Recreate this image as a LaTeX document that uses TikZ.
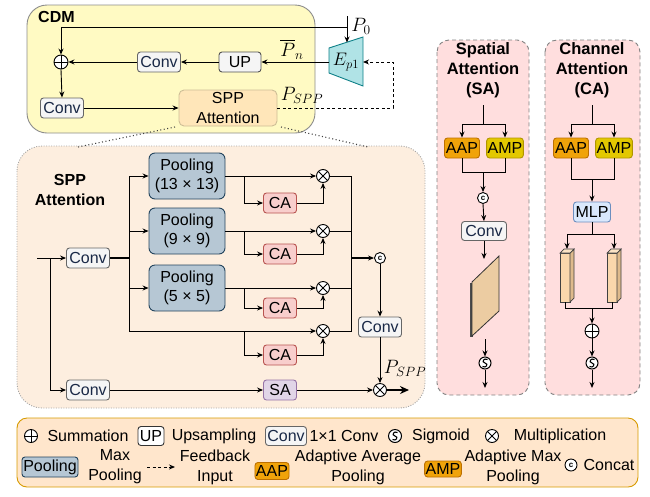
\documentclass[tikz,border=0pt]{standalone}
\usepackage[no-math]{fontspec}
\setmainfont{Liberation Sans}
\usepackage{amsmath}
\usepackage{graphicx}
\usetikzlibrary{arrows.meta}
\definecolor{cdmfill}{RGB}{255,250,195}
\definecolor{cdmdraw}{RGB}{140,140,140}
\definecolor{sppfill}{RGB}{255,230,185}
\definecolor{sppdraw}{RGB}{205,190,150}
\definecolor{bigfill}{RGB}{253,238,223}
\definecolor{convfill}{RGB}{245,245,245}
\definecolor{convdraw}{RGB}{102,102,102}
\definecolor{convtext}{RGB}{25,40,70}
\definecolor{poolfill}{RGB}{182,199,212}
\definecolor{pooldraw}{HTML}{23445D}
\definecolor{cafill}{HTML}{F8CECC}
\definecolor{cadraw}{HTML}{B85450}
\definecolor{safill}{HTML}{E1D5E7}
\definecolor{sadraw}{HTML}{9673A6}
\definecolor{mlpfill}{HTML}{DAE8FC}
\definecolor{mlpdraw}{HTML}{6C8EBF}
\definecolor{aapfill}{HTML}{F0A30A}
\definecolor{aapdraw}{HTML}{BD7000}
\definecolor{ampfill}{HTML}{E3C800}
\definecolor{ampdraw}{HTML}{B09500}
\definecolor{panelfill}{RGB}{255,222,222}
\definecolor{paneldraw}{RGB}{130,130,130}
\definecolor{legfill}{HTML}{FFE6CC}
\definecolor{legdraw}{HTML}{D79B00}
\definecolor{epfill}{HTML}{B0E3E6}
\definecolor{epdraw}{HTML}{0E8088}
\definecolor{platefill}{RGB}{236,204,162}
\definecolor{cubefill}{HTML}{FAD7AC}
\definecolor{cubeside}{RGB}{222,186,140}
\newcommand\fsz{\fontsize{16}{19}\selectfont}
\newcommand\tsz{\fontsize{16.5}{20}\selectfont\bfseries}
\newcommand\msz{\fontsize{17.28}{20}\selectfont}
\newcommand\mlb[2]{\scalebox{#1}{$#2$}}
\tikzset{
  base/.style={rounded corners=3pt, line width=0.9pt, inner sep=1pt, font=\fsz, align=center, text=black},
  conv/.style={base, draw=convdraw, fill=convfill, minimum width=43, minimum height=20, text=convtext},
  upbox/.style={base, draw=convdraw!80!black, fill=convfill, minimum width=42, minimum height=20},
  pool/.style={base, rounded corners=6pt, draw=pooldraw, fill=poolfill, minimum width=76, minimum height=46},
  cabox/.style={base, draw=cadraw, fill=cafill, minimum width=33, minimum height=20},
  sabox/.style={base, draw=sadraw, fill=safill, minimum width=33, minimum height=20},
  mlpbox/.style={base, draw=mlpdraw, fill=mlpfill, minimum width=37, minimum height=20},
  aapbox/.style={base, draw=aapdraw, fill=aapfill, minimum width=35, minimum height=20},
  ampbox/.style={base, draw=ampdraw, fill=ampfill, minimum width=35, minimum height=20},
  sppbox/.style={base, rounded corners=5pt, draw=sppdraw, fill=sppfill, minimum width=98, minimum height=36, font=\fontsize{16}{20}\selectfont},
  lgtxt/.style={font=\fontsize{16}{20}\selectfont, align=center, inner sep=0pt},
  ttl/.style={font=\tsz, align=center, inner sep=0pt},
  mlbl/.style={font=\msz, inner sep=0pt},
  conn/.style={line width=0.9pt, draw=black},
  arw/.style={conn, -{Stealth[length=6pt,width=5pt]}},
  dasharw/.style={conn, dash pattern=on 3pt off 2.5pt, -{Stealth[length=6pt,width=5pt]}},
  bigarw/.style={line width=2.2pt, -{Stealth[length=9pt,width=8pt]}},
  opsum/.style={circle, draw, line width=0.9pt, fill=white, minimum size=14, inner sep=0pt,
    path picture={\draw[line width=0.9pt] (path picture bounding box.north)--(path picture bounding box.south) (path picture bounding box.west)--(path picture bounding box.east);}},
  opmul/.style={circle, draw, line width=0.9pt, fill=white, minimum size=13, inner sep=0pt,
    path picture={\draw[line width=0.9pt] (path picture bounding box.north west)--(path picture bounding box.south east) (path picture bounding box.south west)--(path picture bounding box.north east);}},
  opsig/.style={circle, draw, line width=1pt, fill=white, minimum size=12, inner sep=0pt,
    path picture={\draw[line width=1.1pt, shift={(path picture bounding box.center)}] (2.5,-3.5) .. controls (-1,-5.5) and (-4,-1) .. (0,0) .. controls (4,1) and (1,5.5) .. (-2.5,3.5);}},
  opcat/.style={circle, draw, line width=0.9pt, fill=white, minimum size=11, inner sep=0pt, font=\fontsize{8}{8}\selectfont\bfseries},
}
\begin{document}
\begin{tikzpicture}[x=1pt,y=-1pt]
\useasboundingbox (0,0) rectangle (650,496);

% ---------------- CDM ----------------
\draw[cdmdraw, fill=cdmfill, line width=0.9pt, rounded corners=20pt] (27,5) rectangle (315,133);
\node[font=\fontsize{16}{18}\selectfont\bfseries, anchor=west, inner sep=0pt] (cdmlbl) at (38,17) {CDM};

\draw[epdraw, fill=epfill, line width=0.9pt] (329,48) -- (363,37) -- (363,86) -- (329,73) -- cycle;
\node[mlbl] (ep) at (346,62) {\mlb{1.05}{E_{p1}}};
\coordinate (epL) at (329,62);
\coordinate (epR) at (363,62);
\coordinate (epT) at (347,42.5);

\node[opsum] (sum1) at (61,62) {};
\node[conv] (c1) at (159,62) {Conv};
\node[upbox] (up) at (240,62) {UP};
\node[conv] (c2) at (62,108) {Conv};
\node[sppbox] (spp) at (228,108) {SPP\\Attention};

\coordinate (p0in) at (347,16);
\coordinate (p0j) at (347,27);
\draw[arw] (p0in) -- (epT);
\draw[arw] (p0j) -| (sum1.north);
\draw[arw] (epL) -- (up.east);
\draw[arw] (up.west) -- (c1.east);
\draw[arw] (c1.west) -- (sum1.east);
\draw[arw] (sum1.south) -- (c2.north);
\draw[arw] (c2.east) -- (spp.west);
\coordinate (fb1) at (393,108);
\coordinate (fb2) at (393,62);
\draw[dasharw] (spp.east) -- (fb1) -- (fb2) -- (epR);

\node[mlbl] (p0lbl) at (361,26) {\mlb{1.12}{P_0}};
\node[mlbl] (pnlbl) at (292,49) {\mlb{1.12}{\overline{P}_n}};
\node[mlbl] (psppa) at (302,95) {\mlb{1.12}{P_{SPP}}};

% ---------------- SPP Attention region ----------------
\draw[draw=gray!70, fill=bigfill, line width=0.9pt, dash pattern=on 1pt off 1.5pt, rounded corners=25pt] (17,146) rectangle (425,408);
\coordinate (zl) at (78,147);
\coordinate (zr) at (368,147);
\draw[line width=1.1pt, dash pattern=on 1pt off 2.5pt, black!75] (175,127) -- (zl);
\draw[line width=1.1pt, dash pattern=on 1pt off 2.5pt, black!75] (281,127) -- (zr);
\node[ttl, font=\fontsize{16}{20}\selectfont\bfseries] (sppl) at (70,190) {SPP\\Attention};

\node[conv] (c3) at (88,258) {Conv};
\node[conv] (c4) at (88,390) {Conv};
\node[pool] (pool1) at (187,176) {Pooling\\(13 × 13)};
\node[pool] (pool2) at (187,231) {Pooling\\(9 × 9)};
\node[pool] (pool3) at (187,288) {Pooling\\(5 × 5)};
\node[opmul] (mul1) at (323,176) {};
\node[opmul] (mul2) at (323,231) {};
\node[opmul] (mul3) at (323,288) {};
\node[opmul] (mul4) at (323,331) {};
\node[cabox] (ca1) at (280,203) {CA};
\node[cabox] (ca2) at (280,254) {CA};
\node[cabox] (ca3) at (280,308) {CA};
\node[cabox] (ca4) at (280,355) {CA};
\node[opcat] (cat1) at (380,258) {c};
\node[conv] (c5) at (380,327) {Conv};
\node[opmul] (mul5) at (380,390) {};
\node[sabox] (sa) at (280,390) {SA};
\node[mlbl] (psppb) at (405,368) {\mlb{1.12}{P_{SPP}}};

\coordinate (in) at (37,258);
\coordinate (bi) at (50,258);
\coordinate (bl) at (129,258);
\coordinate (br) at (351,258);
\coordinate (out) at (409,390);
\draw[arw] (in) -- (c3.west);
\draw[arw] (bi) |- (c4.west);
\draw[conn, line width=1.5pt] (c3.east) -- (bl);
\draw[arw] (bl) |- (pool1.west);
\draw[arw] (bl) |- (pool2.west);
\draw[arw] (bl) |- (pool3.west);
\draw[arw] (bl) |- (mul4.west);
\draw[arw] (pool1.east) -- (mul1.west);
\draw[arw] (pool2.east) -- (mul2.west);
\draw[arw] (pool3.east) -- (mul3.west);
\coordinate (k1) at (244,176);
\coordinate (k2) at (244,231);
\coordinate (k3) at (244,288);
\coordinate (k4) at (244,331);
\draw[arw] (k1) |- (ca1.west);
\draw[arw] (k2) |- (ca2.west);
\draw[arw] (k3) |- (ca3.west);
\draw[arw] (k4) |- (ca4.west);
\draw[arw] (ca1.east) -| (mul1.south);
\draw[arw] (ca2.east) -| (mul2.south);
\draw[arw] (ca3.east) -| (mul3.south);
\draw[arw] (ca4.east) -| (mul4.south);
\draw[conn] (mul1.east) -| (br);
\draw[conn] (mul2.east) -| (br);
\draw[conn] (mul3.east) -| (br);
\draw[conn] (mul4.east) -| (br);
\draw[arw, line width=1.5pt] (br) -- (cat1.west);
\draw[arw] (cat1.south) -- (c5.north);
\draw[arw] (c5.south) -- (mul5.north);
\draw[arw] (c4.east) -- (sa.west);
\draw[arw] (sa.east) -- (mul5.west);
\draw[bigarw] (mul5.east) -- (out);

% ---------------- Spatial Attention panel ----------------
\draw[paneldraw, fill=panelfill, line width=0.9pt, dash pattern=on 4pt off 3pt, rounded corners=12pt] (437,40) rectangle (529,395);
\node[ttl] (sattl) at (483,70) {Spatial\\Attention\\(SA)};
\node[aapbox] (aap1) at (462,148) {AAP};
\node[ampbox] (amp1) at (505,148) {AMP};
\node[opcat] (cat2) at (483,198) {c};
\node[conv, minimum width=45, minimum height=19] (c6) at (484,231) {Conv};
\node[opsig] (sig1) at (485,363) {};
\coordinate (sat) at (483,105);
\coordinate (saj) at (483,124);
\coordinate (sab) at (483,172);
\coordinate (sapl) at (484,259);
\coordinate (sas) at (485,339);
\coordinate (sao) at (485,388);
\draw[conn] (sat) -- (saj);
\draw[arw] (saj) -| (aap1.north);
\draw[arw] (saj) -| (amp1.north);
\draw[conn] (aap1.south) |- (sab);
\draw[conn] (amp1.south) |- (sab);
\draw[arw] (sab) -- (cat2.north);
\draw[arw] (cat2.south) -- (c6.north);
\draw[arw] (c6.south) -- (sapl);
\draw[line width=3pt, black!70] (471,283) -- (471,337);
\draw[fill=platefill, draw=black!80, line width=0.8pt] (472,282) -- (499,256) -- (499,311) -- (472,336) -- cycle;
\draw[arw] (sas) -- (sig1.north);
\draw[arw] (sig1.south) -- (sao);

% ---------------- Channel Attention panel ----------------
\draw[paneldraw, fill=panelfill, line width=0.9pt, dash pattern=on 4pt off 3pt, rounded corners=12pt] (545,40) rectangle (640,395);
\node[ttl] (cattl) at (592,70) {Channel\\Attention\\(CA)};
\node[aapbox] (aap2) at (571,148) {AAP};
\node[ampbox] (amp2) at (614,148) {AMP};
\node[mlpbox] (mlp) at (592,212) {MLP};
\node[opsum] (sum2) at (592,331) {};
\node[opsig] (sig2) at (592,363) {};
\coordinate (cat) at (592,105);
\coordinate (caj) at (592,124);
\coordinate (cab) at (592,179);
\coordinate (mj) at (592,234);
\coordinate (cu1t) at (567,249);
\coordinate (cu2t) at (614,249);
\coordinate (cu1b) at (565,302);
\coordinate (cu2b) at (612,302);
\coordinate (cbj) at (592,308);
\coordinate (cao) at (592,388);
\draw[conn] (cat) -- (caj);
\draw[arw] (caj) -| (aap2.north);
\draw[arw] (caj) -| (amp2.north);
\draw[conn] (aap2.south) |- (cab);
\draw[conn] (amp2.south) |- (cab);
\draw[arw] (cab) -- (mlp.north);
\draw[conn] (mlp.south) -- (mj);
\draw[arw] (mj) -| (cu1t);
\draw[arw] (mj) -| (cu2t);
% cuboids
\foreach \xa in {560,607}{
  \draw[draw=black!75, line width=0.7pt, fill=cubefill] (\xa,253) rectangle (\xa+10,302);
  \draw[draw=black!75, line width=0.7pt, fill=cubeside] (\xa+10,253) -- (\xa+14,249) -- (\xa+14,298) -- (\xa+10,302) -- cycle;
  \draw[draw=black!75, line width=0.7pt, fill=cubefill!70!white] (\xa,253) -- (\xa+4,249) -- (\xa+14,249) -- (\xa+10,253) -- cycle;
}
\draw[conn] (cu1b) |- (cbj);
\draw[conn] (cu2b) |- (cbj);
\draw[arw] (cbj) -- (sum2.north);
\draw[arw] (sum2.south) -- (sig2.north);
\draw[arw] (sig2.south) -- (cao);

% ---------------- Legend ----------------
\draw[legdraw, fill=legfill, line width=0.9pt, rounded corners=10pt] (17,418) rectangle (638,487);
\node[opsum, minimum size=13] (lgsum) at (31,436) {};
\node[lgtxt] (lgsumt) at (88,436) {Summation};
\node[upbox, minimum width=26, minimum height=19, fill=white, draw=black!80] (lgup) at (151,436) {UP};
\node[lgtxt] (lgupt) at (214,436) {Upsampling};
\node[conv, minimum width=41, minimum height=19] (lgconv) at (286,436) {Conv};
\node[lgtxt] (lgconvt) at (344,436) {1×1 Conv};
\node[opsig, minimum size=13] (lgsig) at (395,436) {};
\node[lgtxt] (lgsigt) at (441,436) {Sigmoid};
\node[opmul] (lgmul) at (492,436) {};
\node[lgtxt] (lgmult) at (560,436) {Multiplication};
\node[pool, rounded corners=3pt, minimum width=56, minimum height=20] (lgpool) at (50,467) {Pooling};
\node[lgtxt] (lgpoolt) at (115,467) {Max\\Pooling};
\coordinate (lgd1) at (147,467);
\coordinate (lgd2) at (175,467);
\draw[dasharw] (lgd1) -- (lgd2);
\node[lgtxt] (lgfbt) at (215,467) {Feedback\\Input};
\node[aapbox, minimum width=33, minimum height=17] (lgaap) at (272,471) {AAP};
\node[lgtxt] (lgaapt) at (358,467) {Adaptive Average\\Pooling};
\node[aapbox, minimum width=36, minimum height=16] (lgamp) at (443,469) {AMP};
\node[lgtxt] (lgampt) at (513,467) {Adaptive Max\\Pooling};
\node[opcat, minimum size=12] (lgcat) at (571,465) {c};
\node[lgtxt] (lgcatt) at (609,465) {Concat};
\end{tikzpicture}
\end{document}
